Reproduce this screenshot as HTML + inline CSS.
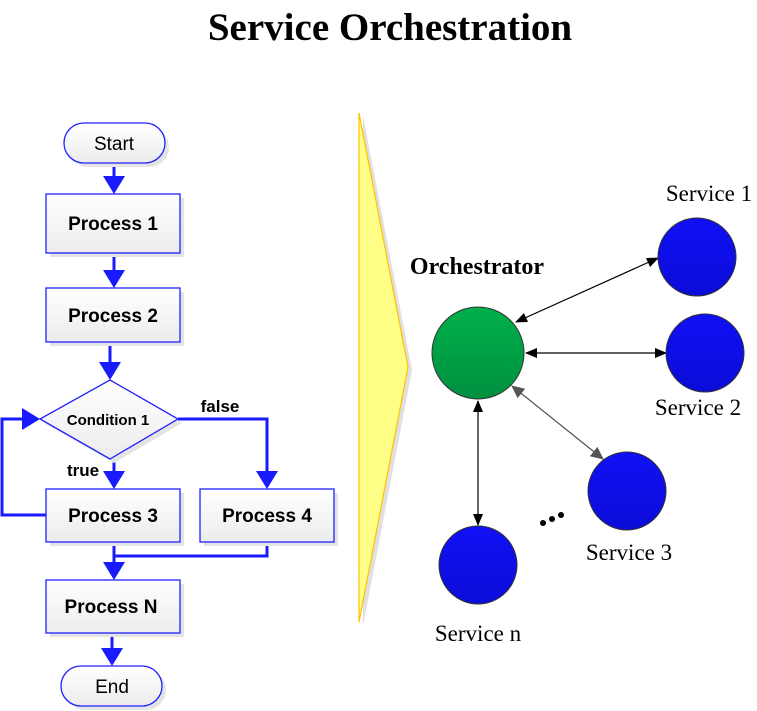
<!DOCTYPE html>
<html><head><meta charset="utf-8"><style>html,body{margin:0;padding:0;background:#fff}svg{display:block}</style></head>
<body>
<svg width="757" height="711" viewBox="0 0 757 711" xmlns="http://www.w3.org/2000/svg">
<defs>
<linearGradient id="box" x1="0" y1="0" x2="0" y2="1"><stop offset="0" stop-color="#ffffff"/><stop offset="1" stop-color="#ececec"/></linearGradient>
<linearGradient id="grn" x1="0" y1="0" x2="0" y2="1"><stop offset="0" stop-color="#00b04a"/><stop offset="1" stop-color="#009040"/></linearGradient>
<linearGradient id="blu" x1="0" y1="0" x2="0" y2="1"><stop offset="0" stop-color="#1010f5"/><stop offset="1" stop-color="#0c0cd8"/></linearGradient>
<marker id="ba" markerWidth="12" markerHeight="10" refX="11" refY="5" orient="auto" markerUnits="userSpaceOnUse"><path d="M0,0 L12,5 L0,10 Z" fill="#000"/></marker>
<marker id="bs" markerWidth="12" markerHeight="10" refX="1" refY="5" orient="auto" markerUnits="userSpaceOnUse"><path d="M12,0 L0,5 L12,10 Z" fill="#000"/></marker>
<marker id="ga" markerWidth="13" markerHeight="12" refX="12" refY="6" orient="auto" markerUnits="userSpaceOnUse"><path d="M0,0 L13,6 L0,12 Z" fill="#555"/></marker>
<marker id="gs" markerWidth="13" markerHeight="12" refX="1" refY="6" orient="auto" markerUnits="userSpaceOnUse"><path d="M13,0 L0,6 L13,12 Z" fill="#555"/></marker>
</defs>
<text x="390" y="40" font-family="Liberation Serif" font-weight="bold" font-size="39" text-anchor="middle">Service Orchestration</text>

<g stroke="#1a1aff" stroke-width="3" fill="none">
<line x1="114" y1="163" x2="114" y2="180"/>
<line x1="114" y1="253" x2="114" y2="274"/>
<line x1="110" y1="342" x2="110" y2="366"/>
<line x1="114" y1="459" x2="114" y2="475"/>
<polyline points="178,419 267,419 267,475"/>
<polyline points="46,515 2,515 2,419 26,419"/>
<polyline points="114,542 114,556 267,556 267,542"/>
<line x1="114" y1="556" x2="114" y2="566"/>
<line x1="112" y1="633" x2="112" y2="652"/>
</g>
<g fill="#1a1aff">
<path d="M103,176 L125,176 L114,194 Z"/>
<path d="M103,270 L125,270 L114,288 Z"/>
<path d="M99,362 L121,362 L110,380 Z"/>
<path d="M103,471 L125,471 L114,489 Z"/>
<path d="M256,471 L278,471 L267,489 Z"/>
<path d="M22,408 L22,430 L40,419 Z"/>
<path d="M103,562 L125,562 L114,580 Z"/>
<path d="M101,648 L123,648 L112,666 Z"/>
</g>

<g fill="#e4e4e4">
<rect x="68" y="127" width="101" height="40" rx="20"/>
<rect x="50" y="198" width="134" height="59"/>
<rect x="50" y="292" width="134" height="54"/>
<rect x="50" y="493" width="134" height="53"/>
<rect x="204" y="493" width="134" height="53"/>
<rect x="50" y="584" width="134" height="53"/>
<rect x="65" y="670" width="101" height="40" rx="20"/>
<path d="M114,384 L182,423 L114,463 L44,423 Z"/>
</g>
<g fill="url(#box)" stroke="#2020ff" stroke-width="1.3">
<rect x="64" y="123" width="101" height="40" rx="20"/>
<rect x="46" y="194" width="134" height="59"/>
<rect x="46" y="288" width="134" height="54"/>
<rect x="46" y="489" width="134" height="53"/>
<rect x="200" y="489" width="134" height="53"/>
<rect x="46" y="580" width="134" height="53"/>
<rect x="61" y="666" width="101" height="40" rx="20"/>
<path d="M110,380 L178,419 L110,459 L40,419 Z"/>
</g>
<g font-family="Liberation Sans" font-size="19" text-anchor="middle" fill="#000">
<text x="114" y="150">Start</text>
<text x="112" y="693">End</text>
<g font-weight="bold">
<text x="113" y="230">Process 1</text>
<text x="113" y="322">Process 2</text>
<text x="113" y="522">Process 3</text>
<text x="267" y="522">Process 4</text>
<text x="111" y="613">Process N</text>
<text x="108" y="425" font-size="15">Condition 1</text>
<text x="220" y="412" font-size="17">false</text>
<text x="83" y="476" font-size="17">true</text>
</g>
</g>

<path d="M363,116 L412,370 L363,626 Z" fill="#e0e0e0"/>
<path d="M359,113 L408,367 L359,622 Z" fill="#ffff88" stroke="#ffc000" stroke-width="1.2"/>

<g stroke="#000" stroke-width="1.2">
<line x1="516" y1="322" x2="658" y2="258" marker-start="url(#bs)" marker-end="url(#ba)"/>
<line x1="526" y1="353" x2="666" y2="353" marker-start="url(#bs)" marker-end="url(#ba)"/>
<line x1="478" y1="401" x2="478" y2="525" marker-start="url(#bs)" marker-end="url(#ba)"/>
<line x1="512" y1="386" x2="603" y2="459" stroke="#555" marker-start="url(#gs)" marker-end="url(#ga)"/>
</g>
<g stroke="#333" stroke-width="1">
<circle cx="478" cy="353" r="46" fill="url(#grn)"/>
<circle cx="697" cy="257" r="39" fill="url(#blu)"/>
<circle cx="705" cy="353" r="39" fill="url(#blu)"/>
<circle cx="627" cy="491" r="39" fill="url(#blu)"/>
<circle cx="478" cy="565" r="39" fill="url(#blu)"/>
</g>
<g fill="#000"><circle cx="543" cy="523" r="3"/><circle cx="552" cy="519" r="3"/><circle cx="561" cy="515" r="3"/></g>
<g font-family="Liberation Serif" font-size="23" fill="#000" text-anchor="middle">
<text x="477" y="274" font-weight="bold" font-size="24">Orchestrator</text>
<text x="709" y="201">Service 1</text>
<text x="698" y="415">Service 2</text>
<text x="629" y="560">Service 3</text>
<text x="478" y="641">Service n</text>
</g>
</svg>
</body></html>
